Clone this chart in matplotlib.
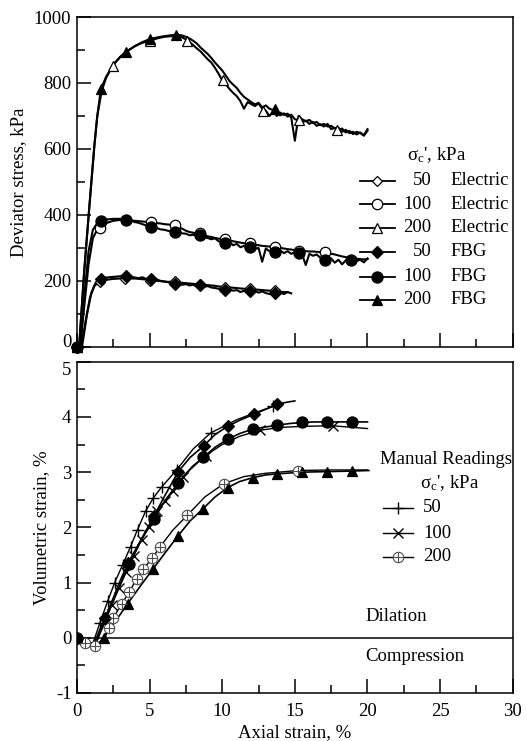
import numpy as np
import matplotlib.pyplot as plt
from matplotlib.ticker import MultipleLocator

plt.rcParams['font.family'] = ['Liberation Serif', 'DejaVu Serif']
plt.rcParams['mathtext.fontset'] = 'custom'
plt.rcParams['mathtext.rm'] = 'Liberation Serif'
plt.rcParams['mathtext.it'] = 'Liberation Serif:italic'
plt.rcParams['axes.unicode_minus'] = False
plt.rcParams['font.size'] = 13.5

# ---------------- deviator stress (top) ----------------
# rising part (x, y) then a noisy tail sampled every 0.25 % axial strain
TAIL_STEP = 0.25

e200_pre_x = [0, 0.15, 0.5, 0.9, 1.2, 1.4, 1.7, 2.0, 2.5, 3.0, 3.5, 4.0, 4.5, 5.0, 5.5, 6.0, 6.5, 7.0]
e200_pre_y = [0, 0, 230, 450, 610, 700, 775, 815, 855, 880, 898, 912, 922, 928, 935, 940, 942, 943]
e200_tail_x0 = 7.25
e200_tail_y = [938, 932, 924, 915, 905, 896, 884, 872, 862, 846, 828, 808, 796, 782, 770, 760,
               745, 722, 742, 736, 730, 738, 722, 716, 700, 712, 705, 702, 708, 698, 704, 690,
               688, 680, 686, 676, 682, 670, 675, 668, 676, 660, 664, 656, 662, 650, 655, 645,
               652, 648, 640, 655]
e200_mk_x = [0, 2.5, 5.0, 7.55, 10.06, 12.8, 15.3, 17.9]
e200_mk_y = [0, 853, 928, 926, 808, 716, 688, 656]

f200_pre_x = [0, 0.15, 0.5, 0.9, 1.2, 1.4, 1.65, 2.0, 2.5, 3.0, 3.4, 4.0, 4.5, 5.0, 5.5, 6.0, 6.5, 7.0]
f200_pre_y = [0, 0, 230, 450, 610, 700, 782, 818, 856, 880, 895, 912, 924, 933, 938, 942, 945, 946]
f200_tail_x0 = 7.25
f200_tail_y = [944, 940, 935, 928, 920, 908, 898, 888, 876, 862, 850, 838, 822, 806, 795, 785,
               770, 758, 750, 742, 735, 740, 726, 732, 722, 718, 700, 710, 703, 707, 695, 625,
               700, 690, 684, 688, 678, 682, 672, 676, 668, 670, 662, 664, 652, 658, 648, 652,
               644, 650, 642, 660]
f200_mk_x = [0, 1.65, 3.4, 5.0, 6.8, 13.6]
f200_mk_y = [0, 782, 895, 933, 947, 722]

e100_pre_x = [0, 0.2, 0.5, 0.8, 1.1, 1.4, 1.6, 2.0, 2.5, 3.0, 3.5]
e100_pre_y = [0, 0, 120, 250, 330, 355, 362, 375, 382, 385, 384]
e100_tail_x0 = 4.0
e100_tail_y = [382, 381, 380, 379, 378, 377, 375, 374, 372, 371, 370, 368, 362, 358, 352, 348,
               346, 344, 342, 338, 335, 333, 330, 328, 327, 325, 322, 320, 318, 316, 314, 313,
               312, 310, 308, 306, 305, 304, 303, 301, 300, 298, 296, 295, 293, 292, 291, 290,
               289, 289, 288, 287, 286, 284, 282, 280, 277, 274, 272, 270, 268, 267, 266, 265, 266]
e100_mk_x = [0, 1.58, 5.1, 6.74, 8.47, 10.2, 11.9, 13.6, 15.3, 17.1]
e100_mk_y = [0, 360, 379, 370, 345, 326, 314, 303, 292, 287]

f100_pre_x = [0, 0.25, 0.5, 0.8, 1.1, 1.4, 1.65, 2.0, 2.5, 3.0, 3.4, 3.75]
f100_pre_y = [0, 0, 150, 290, 355, 375, 382, 386, 388, 388, 386, 382]
f100_tail_x0 = 4.0
f100_tail_y = [378, 376, 372, 368, 366, 362, 360, 356, 355, 352, 350, 348, 347, 344, 343, 338,
               340, 335, 338, 332, 330, 326, 329, 320, 316, 314, 318, 308, 312, 302, 306, 300,
               303, 296, 300, 258, 298, 290, 294, 286, 292, 284, 290, 282, 287, 284, 280, 248,
               282, 276, 280, 270, 274, 262, 268, 255, 264, 250, 262, 258, 266, 260, 264, 256, 268]
f100_mk_x = [0, 1.65, 3.4, 5.1, 6.74, 8.47, 10.2, 11.9, 13.6, 15.3, 17.1, 18.85]
f100_mk_y = [0, 382, 386, 364, 349, 339, 314, 302, 287, 284, 264, 264]

e50_pre_x = [0, 0.3, 0.6, 0.9, 1.2, 1.5, 2.0, 2.5, 3.0, 3.5]
e50_pre_y = [0, 0, 80, 150, 185, 195, 203, 206, 207, 207]
e50_tail_x0 = 4.0
e50_tail_y = [207, 206, 205, 204, 202, 201, 200, 199, 198, 197, 197, 196, 195, 194, 193, 192,
              191, 190, 189, 188, 187, 186, 185, 183, 182, 181, 180, 179, 178, 177, 176, 176,
              175, 174, 173, 172, 171, 170, 169, 168, 167, 166, 166]
e50_mk_x = [0, 1.58, 3.3, 5.0, 6.74, 8.47, 10.2, 11.9, 13.6]
e50_mk_y = [0, 195, 207, 200, 198, 189, 182, 177, 171]

f50_pre_x = [0, 0.35, 0.7, 1.0, 1.3, 1.65, 2.0, 2.5, 3.0, 3.4, 3.75]
f50_pre_y = [0, 0, 100, 165, 195, 205, 210, 212, 214, 215, 212]
f50_tail_x0 = 4.0
f50_tail_y = [210, 208, 211, 206, 205, 203, 204, 200, 198, 196, 192, 191, 193, 188, 190, 186,
              188, 184, 186, 182, 184, 180, 178, 176, 174, 172, 175, 170, 172, 166, 170, 168,
              165, 170, 164, 168, 163, 160, 162, 158, 164, 160, 166, 162]
f50_mk_x = [0, 1.65, 3.4, 5.1, 6.74, 8.47, 10.2, 11.9, 13.6]
f50_mk_y = [0, 205, 215, 205, 191, 186, 173, 168, 162]

# ---------------- volumetric strain (bottom) ----------------
v50f_x = [0, 0.4, 0.8, 1.2, 1.5, 1.93, 2.5, 3.0, 3.53, 4.0, 4.5, 5.32, 6.0, 6.97, 7.8, 8.74,
          9.5, 10.37, 11.2, 12.2, 13.0, 13.79, 14.5, 15.0]
v50f_y = [0, -0.04, -0.1, -0.1, 0.1, 0.36, 0.72, 1.05, 1.36, 1.58, 1.82, 2.21, 2.55, 3.01, 3.27,
          3.48, 3.68, 3.83, 3.94, 4.05, 4.14, 4.23, 4.27, 4.29]
v50f_mk_x = [0, 1.93, 3.53, 5.32, 6.97, 8.74, 10.37, 12.2, 13.79]
v50f_mk_y = [0, 0.36, 1.36, 2.21, 3.01, 3.48, 3.83, 4.05, 4.23]

v50m_x = [0, 0.6, 1.1, 1.58, 2.11, 2.6, 3.14, 3.69, 4.17, 4.72, 5.25, 5.83, 6.86, 8.0, 9.2,
          11.0, 12.5, 13.5, 14.0]
v50m_y = [0, -0.05, -0.1, 0.27, 0.66, 1.0, 1.32, 1.65, 1.96, 2.29, 2.53, 2.73, 3.04, 3.42, 3.71,
          3.95, 4.1, 4.19, 4.23]
v50m_mk_x = [1.58, 2.11, 2.6, 3.14, 3.69, 4.17, 4.72, 5.25, 5.83, 6.86, 9.2, 13.5]
v50m_mk_y = [0.27, 0.66, 1.0, 1.32, 1.65, 1.96, 2.29, 2.53, 2.73, 3.04, 3.71, 4.19]

v100f_x = [0, 0.5, 1.0, 1.35, 1.7, 2.0, 2.5, 3.0, 3.6, 4.4, 5.3, 6.1, 6.97, 7.8, 8.7, 9.5,
           10.4, 11.2, 12.1, 13.0, 13.8, 14.6, 15.5, 16.4, 17.2, 18.0, 18.9, 20.0]
v100f_y = [0, -0.05, -0.11, -0.08, 0.15, 0.33, 0.68, 0.98, 1.33, 1.76, 2.15, 2.5, 2.8, 3.05,
           3.27, 3.45, 3.6, 3.7, 3.78, 3.82, 3.85, 3.88, 3.9, 3.91, 3.91, 3.91, 3.91, 3.91]
v100f_mk_x = [0, 3.6, 5.3, 6.97, 8.7, 10.4, 12.1, 13.8, 15.5, 17.2, 18.9]
v100f_mk_y = [0, 1.33, 2.15, 2.8, 3.27, 3.6, 3.78, 3.85, 3.9, 3.91, 3.91]

v100m_x = [0, 0.6, 1.1, 1.6, 2.4, 2.9, 3.4, 3.9, 4.45, 4.95, 5.5, 6.05, 6.6, 7.3, 8.0, 8.85,
           10.0, 11.2, 12.6, 14.0, 15.5, 17.6, 20.0]
v100m_y = [0, -0.06, -0.12, 0.1, 0.6, 0.9, 1.2, 1.48, 1.78, 2.0, 2.3, 2.47, 2.66, 2.92, 3.12,
           3.3, 3.5, 3.65, 3.76, 3.81, 3.83, 3.84, 3.79]
v100m_mk_x = [2.4, 2.9, 3.4, 3.9, 4.45, 4.95, 5.5, 6.05, 6.6, 7.3, 8.85, 12.6, 17.6]
v100m_mk_y = [0.6, 0.9, 1.2, 1.48, 1.78, 2.0, 2.3, 2.47, 2.66, 2.92, 3.3, 3.76, 3.84]

v200f_x = [0, 0.5, 1.0, 1.5, 1.85, 2.6, 3.5, 4.4, 5.25, 6.1, 6.97, 7.8, 8.65, 9.5, 10.37,
           11.2, 12.1, 13.0, 13.8, 15.5, 17.2, 18.9, 20.1]
v200f_y = [0, -0.05, -0.12, -0.1, 0.0, 0.28, 0.62, 0.95, 1.25, 1.55, 1.85, 2.12, 2.33, 2.55,
           2.72, 2.83, 2.9, 2.95, 2.97, 3.0, 3.01, 3.02, 3.03]
v200f_mk_x = [0, 1.85, 3.5, 5.25, 6.97, 8.65, 10.37, 12.1, 13.8, 15.5, 17.2, 18.9]
v200f_mk_y = [0, 0.0, 0.62, 1.25, 1.85, 2.33, 2.72, 2.9, 2.97, 3.0, 3.01, 3.02]

v200m_x = [0, 0.55, 1.25, 1.7, 2.2, 2.5, 3.1, 3.6, 4.1, 4.55, 5.2, 5.7, 6.6, 7.6, 8.8, 10.1,
           11.5, 13.0, 15.2, 17.5, 20.0]
v200m_y = [0, -0.1, -0.14, -0.05, 0.17, 0.36, 0.62, 0.83, 1.06, 1.24, 1.45, 1.64, 1.95, 2.22,
           2.55, 2.79, 2.92, 2.98, 3.03, 3.04, 3.04]
v200m_mk_x = [0.55, 1.25, 2.2, 2.5, 3.1, 3.6, 4.1, 4.55, 5.2, 5.7, 7.6, 10.1, 15.2]
v200m_mk_y = [-0.1, -0.14, 0.17, 0.36, 0.62, 0.83, 1.06, 1.24, 1.45, 1.64, 2.22, 2.79, 3.03]

top_leg_press = ['50', '100', '200', '50', '100', '200']
top_leg_src = ['Electric', 'Electric', 'Electric', 'FBG', 'FBG', 'FBG']
bot_leg_press = ['50', '100', '200']

SIGMA = r"$\mathregular{\sigma_c}$', kPa"

# marker styles
OPEN = dict(color='black', mfc='white', mec='black', mew=0.9)
FILLED = dict(color='black', mfc='black', mec='black', mew=0.9)
STY = {
    'e50': dict(marker='D', ms=5.5, **OPEN),
    'e100': dict(marker='o', ms=7.5, **OPEN),
    'e200': dict(marker='^', ms=7.5, **OPEN),
    'f50': dict(marker='D', ms=6, **FILLED),
    'f100': dict(marker='o', ms=8, **FILLED),
    'f200': dict(marker='^', ms=7, **FILLED),
    'm50': dict(marker='+', ms=9, color='black', mew=1.0),
    'm100': dict(marker='x', ms=7, color='black', mew=1.0),
}


def stitch(pre_x, pre_y, x0, tail_y):
    """Join the rising branch with the tail sampled every TAIL_STEP."""
    tail_x = x0 + TAIL_STEP * np.arange(len(tail_y))
    return np.concatenate([pre_x, tail_x]), np.concatenate([pre_y, tail_y])


def series(ax, x, y, mk_x, mk_y, key, lw=1.3):
    ax.plot(x, y, color='black', lw=lw, zorder=2)
    ax.plot(mk_x, mk_y, ls='none', zorder=3, **STY[key])


def oplus(ax, x, y, transform=None):
    """Open circle with a cross inside (manual readings at 200 kPa)."""
    if transform is None:
        transform = ax.transData
    ax.plot(x, y, ls='none', marker='o', ms=7.5, mfc='white', mec='0.3', mew=0.8,
            transform=transform, zorder=3)
    ax.plot(x, y, ls='none', marker='+', ms=7.5, color='0.3', mew=0.8,
            transform=transform, zorder=4)


def style_axes(ax):
    for s in ax.spines.values():
        s.set_linewidth(1.1)
    ax.tick_params(which='both', direction='in', top=False, right=False, width=1.1)
    ax.tick_params(which='major', length=10, labelsize=13.5, pad=4)
    ax.tick_params(which='minor', length=5.5)


fig = plt.figure(figsize=(5.27, 7.41), dpi=100)
ax1 = fig.add_axes([0.146, 0.532, 0.827, 0.445])
ax2 = fig.add_axes([0.146, 0.0648, 0.827, 0.447])

# ---- top panel ----
curves_top = [
    (e50_pre_x, e50_pre_y, e50_tail_x0, e50_tail_y, e50_mk_x, e50_mk_y, 'e50'),
    (e100_pre_x, e100_pre_y, e100_tail_x0, e100_tail_y, e100_mk_x, e100_mk_y, 'e100'),
    (e200_pre_x, e200_pre_y, e200_tail_x0, e200_tail_y, e200_mk_x, e200_mk_y, 'e200'),
    (f50_pre_x, f50_pre_y, f50_tail_x0, f50_tail_y, f50_mk_x, f50_mk_y, 'f50'),
    (f100_pre_x, f100_pre_y, f100_tail_x0, f100_tail_y, f100_mk_x, f100_mk_y, 'f100'),
    (f200_pre_x, f200_pre_y, f200_tail_x0, f200_tail_y, f200_mk_x, f200_mk_y, 'f200'),
]
for px, py, x0, ty, mx, my, key in curves_top:
    x, y = stitch(px, py, x0, ty)
    ax1.plot(x, y, color='black', lw=1.5, zorder=2)
    ax1.plot(mx, my, ls='none', zorder=3, clip_on=False, **STY[key])

ax1.set_xlim(0, 30)
ax1.set_ylim(0, 1000)
ax1.xaxis.set_major_locator(MultipleLocator(5))
ax1.xaxis.set_minor_locator(MultipleLocator(2.5))
ax1.yaxis.set_major_locator(MultipleLocator(200))
ax1.yaxis.set_minor_locator(MultipleLocator(100))
ax1.set_xticklabels([])
style_axes(ax1)
ax1.set_ylabel('Deviator stress, kPa', fontsize=13.5)
ax1.yaxis.set_label_coords(-0.115, 0.5)

# legend of the top panel, drawn by hand in axes fraction
ax1.text(0.826, 0.582, SIGMA, transform=ax1.transAxes, ha='center', va='center')
row_y = [0.503, 0.433, 0.361, 0.288, 0.212, 0.142]
keys_top = ['e50', 'e100', 'e200', 'f50', 'f100', 'f200']
for yy, key, p, s in zip(row_y, keys_top, top_leg_press, top_leg_src):
    ax1.plot([0.649, 0.729], [yy, yy], color='black', lw=1.3, transform=ax1.transAxes)
    ax1.plot([0.689], [yy], ls='none', transform=ax1.transAxes, **STY[key])
    ax1.text(0.814, yy, p, transform=ax1.transAxes, ha='right', va='center')
    ax1.text(0.858, yy, s, transform=ax1.transAxes, ha='left', va='center')

# ---- bottom panel ----
ax2.axhline(0, color='black', lw=1.1, zorder=1)
series(ax2, v50m_x, v50m_y, v50m_mk_x, v50m_mk_y, 'm50', lw=1.0)
series(ax2, v100m_x, v100m_y, v100m_mk_x, v100m_mk_y, 'm100', lw=1.0)
ax2.plot(v200m_x, v200m_y, color='black', lw=1.0, zorder=2)
oplus(ax2, v200m_mk_x, v200m_mk_y)
series(ax2, v50f_x, v50f_y, v50f_mk_x, v50f_mk_y, 'f50', lw=1.2)
series(ax2, v100f_x, v100f_y, v100f_mk_x, v100f_mk_y, 'f100', lw=1.2)
series(ax2, v200f_x, v200f_y, v200f_mk_x, v200f_mk_y, 'f200', lw=1.2)

ax2.set_xlim(0, 30)
ax2.set_ylim(-1, 5)
ax2.xaxis.set_major_locator(MultipleLocator(5))
ax2.xaxis.set_minor_locator(MultipleLocator(2.5))
ax2.yaxis.set_major_locator(MultipleLocator(1))
ax2.yaxis.set_minor_locator(MultipleLocator(0.5))
style_axes(ax2)
ax2.tick_params(axis='x', which='major', pad=7)
ax2.set_xlabel('Axial strain, %', fontsize=13.5, labelpad=3)
ax2.set_ylabel('Volumetric strain, %', fontsize=13.5)
ax2.yaxis.set_label_coords(-0.062, 0.5)

# the "0" of the top panel and the "5" of the bottom one sit almost on each other
fig.canvas.draw()
for t in ax1.yaxis.get_major_ticks():
    if t.label1.get_text() == '0':
        t.label1.set_va('baseline')
for t in ax2.yaxis.get_major_ticks():
    if t.label1.get_text() == '5':
        t.label1.set_va('top')

ax2.text(0.695, 0.704, 'Manual Readings', transform=ax2.transAxes, ha='left', va='center')
ax2.text(0.856, 0.634, SIGMA, transform=ax2.transAxes, ha='center', va='center')
brow_y = [0.559, 0.483, 0.411]
for yy, p, key in zip(brow_y, bot_leg_press, ['m50', 'm100', 'm200']):
    ax2.plot([0.702, 0.771], [yy, yy], color='black', lw=1.0, transform=ax2.transAxes)
    if key == 'm200':
        oplus(ax2, [0.736], [yy], transform=ax2.transAxes)
    else:
        ax2.plot([0.736], [yy], ls='none', transform=ax2.transAxes, **STY[key])
    ax2.text(0.794, yy, p, transform=ax2.transAxes, ha='left', va='center')

ax2.text(0.661, 0.230, 'Dilation', transform=ax2.transAxes, ha='left', va='center')
ax2.text(0.661, 0.109, 'Compression', transform=ax2.transAxes, ha='left', va='center')

fig.savefig('out.png', dpi=100)
